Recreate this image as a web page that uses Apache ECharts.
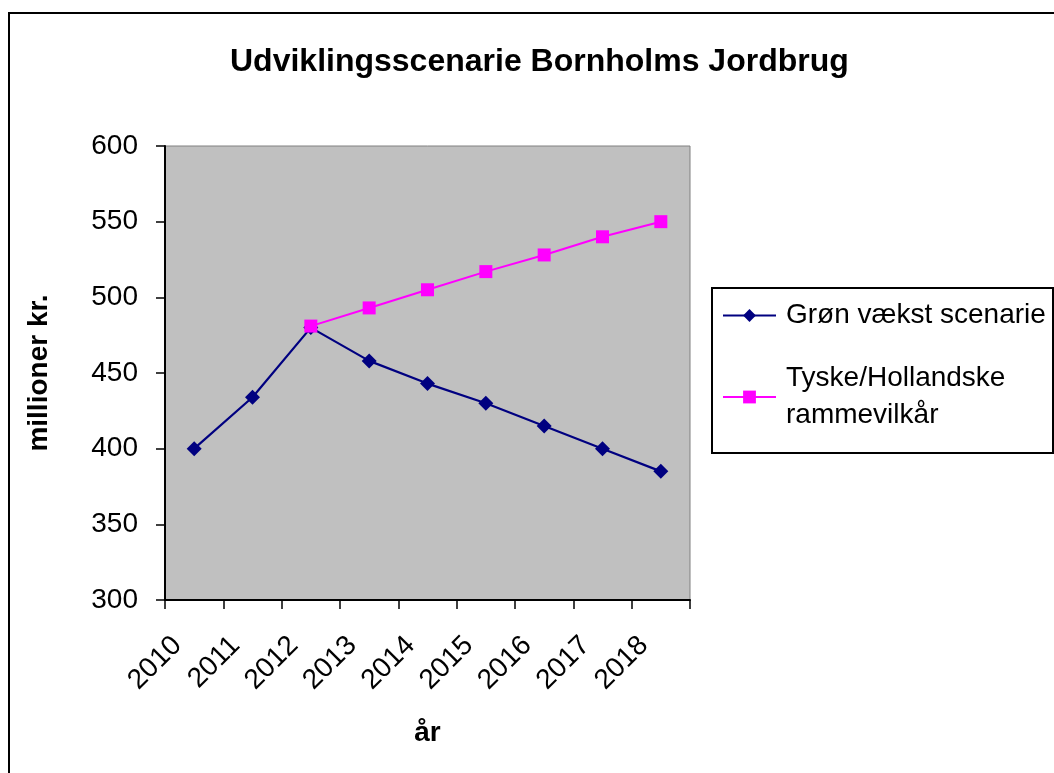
<!DOCTYPE html>
<html>
<head>
<meta charset="utf-8">
<script src="https://cdn.jsdelivr.net/npm/echarts@6/dist/echarts.min.js"></script>
<style>
html,body{margin:0;padding:0;background:#fff;}
#chart{width:1054px;height:773px;}
</style>
</head>
<body>
<div id="chart"></div>
<script>
const years = ['2010','2011','2012','2013','2014','2015','2016','2017','2018'];
const gronVaekst = [400, 434, 480, 458, 443, 430, 415, 400, 385];
const tyskeHollandske = [null, null, 481, 493, 505, 517, 528, 540, 550];
const yTicks = {min: 300, max: 600, interval: 50};
const seriesNames = ['Grøn vækst scenarie', 'Tyske/Hollandske\nrammevilkår'];

const FONT = '"Liberation Sans", Arial, sans-serif';
const chart = echarts.init(document.getElementById('chart'), null, {renderer: 'canvas'});
chart.setOption({
  animation: false,
  backgroundColor: '#ffffff',
  textStyle: {fontFamily: FONT, color: '#000'},
  title: {
    text: 'Udviklingsscenarie Bornholms Jordbrug',
    left: 230, top: 46, padding: 0,
    textStyle: {fontFamily: FONT, fontSize: 32, fontWeight: 'bold', color: '#000'}
  },
  graphic: [
    {type: 'rect', shape: {x: 9, y: 13, width: 1100, height: 800},
     style: {fill: 'none', stroke: '#000', lineWidth: 2}, silent: true, z: 100},
    {type: 'rect', shape: {x: 712, y: 288, width: 341, height: 165},
     style: {fill: 'none', stroke: '#000', lineWidth: 2}, silent: true, z: 100}
  ],
  legend: [
    {
      data: [seriesNames[0]], orient: 'vertical', left: 722, top: 297, padding: 0,
      itemWidth: 53, itemHeight: 16,
      textStyle: {fontFamily: FONT, fontSize: 28, color: '#000', lineHeight: 37, padding: [0, 0, 0, 5]}
    },
    {
      data: [seriesNames[1]], orient: 'vertical', left: 722, top: 341.5, padding: 0,
      itemWidth: 53, itemHeight: 16,
      textStyle: {fontFamily: FONT, fontSize: 28, color: '#000', lineHeight: 37, padding: [37, 0, 0, 5]}
    }
  ],
  grid: {
    left: 165, right: 364, top: 146, bottom: 173,
    show: true, backgroundColor: '#C0C0C0', borderColor: '#808080', borderWidth: 1
  },
  xAxis: {
    type: 'category', data: years, boundaryGap: true,
    name: 'år', nameLocation: 'middle', nameGap: 119,
    nameTextStyle: {fontFamily: FONT, fontSize: 28, fontWeight: 'bold', color: '#000'},
    axisLine: {lineStyle: {color: '#000', width: 2}},
    axisTick: {show: true, length: 9, alignWithLabel: false, interval: 0, lineStyle: {color: '#000', width: 1.5}},
    axisLabel: {interval: 0, rotate: 45, margin: 24, padding: [0, 24, 0, 0],
      fontFamily: FONT, fontSize: 28, color: '#000'},
    splitLine: {show: false}
  },
  yAxis: {
    type: 'value', min: yTicks.min, max: yTicks.max, interval: yTicks.interval,
    name: 'millioner kr.', nameLocation: 'middle', nameGap: 112,
    nameTextStyle: {fontFamily: FONT, fontSize: 28, fontWeight: 'bold', color: '#000'},
    axisLine: {show: true, lineStyle: {color: '#000', width: 2}},
    axisTick: {show: true, length: 9, lineStyle: {color: '#000', width: 1.5}},
    axisLabel: {margin: 27, fontFamily: FONT, fontSize: 28, color: '#000'},
    splitLine: {show: false}
  },
  series: [
    {
      name: seriesNames[0], type: 'line', data: gronVaekst,
      symbol: 'diamond', symbolSize: 15,
      itemStyle: {color: '#000080'}, lineStyle: {color: '#000080', width: 2.2}
    },
    {
      name: seriesNames[1], type: 'line', data: tyskeHollandske,
      symbol: 'rect', symbolSize: 13,
      itemStyle: {color: '#FF00FF'}, lineStyle: {color: '#FF00FF', width: 2}
    }
  ]
});
</script>
</body>
</html>
